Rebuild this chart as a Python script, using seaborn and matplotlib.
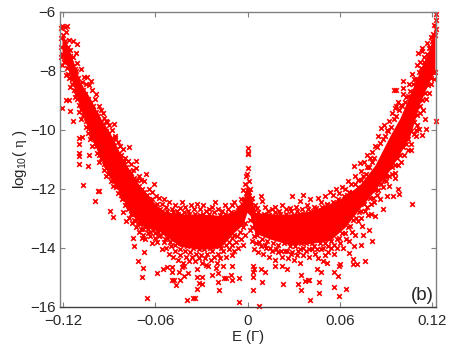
import matplotlib
matplotlib.use('Agg')
import matplotlib.pyplot as plt
import seaborn as sns

# Solid middle of the cloud, envelope
core_energy = [-0.1208, -0.1153, -0.1088, -0.1023, -0.0959, -0.0896, -0.0831, -0.0766, -0.0701, -0.0636, -0.0571,
               -0.0506, -0.044, -0.031, -0.018, -0.0083, -0.003, -0.0005, 0.0015, 0.0047, 0.0145, 0.0275, 0.0405,
               0.0535, 0.0633, 0.0731, 0.0828, 0.0926, 0.0991, 0.1056, 0.1121, 0.1186, 0.1218]
core_top = [-6.7, -7.4, -8.4, -8.95, -9.6, -10.1, -10.8, -11.4, -11.9, -12.3, -12.7,
            -12.8, -12.85, -12.85, -12.9, -12.75, -12.4, -11.8, -12.1, -12.8, -12.85, -12.85, -12.75,
            -12.5, -12.25, -11.85, -11.2, -10.2, -9.6, -8.8, -8.0, -7.2, -6.5]
core_bottom = [-7.4, -8.2, -9.3, -10.2, -10.95, -11.6, -12.15, -12.8, -13.2, -13.35, -13.45,
               -13.7, -13.95, -14.05, -14.0, -13.45, -13.2, -12.8, -12.9, -13.5, -13.7, -13.9, -13.85,
               -13.75, -13.3, -12.65, -12.05, -11.35, -10.8, -10.2, -9.1, -8.3, -8.0]

# Single crosses
outliers = [(-0.107, -11.87), (-0.0993, -12.4), (-0.0977, -12.06), (-0.097, -12.06), (-0.0896, -12.75),
            (-0.0879, -12.94), (-0.0813, -12.79), (-0.0791, -13.1), (-0.0749, -13.68), (-0.0738, -13.93),
            (-0.069, -13.68), (-0.0675, -14.14), (-0.0716, -14.44), (-0.0681, -14.67), (-0.0688, -15.0),
            (-0.0655, -15.7), (-0.0588, -14.85), (-0.0549, -14.73), (-0.0527, -14.65), (-0.0495, -14.64),
            (-0.0495, -14.81), (-0.0495, -15.08), (-0.0478, -15.08), (-0.0469, -15.24), (-0.0449, -14.81),
            (-0.0439, -15.1), (-0.0413, -14.94), (-0.0387, -14.85), (-0.0428, -14.65), (-0.0413, -14.6),
            (-0.0393, -15.76), (-0.0354, -15.71), (-0.0345, -15.71), (-0.0332, -15.38), (-0.0332, -15.0),
            (-0.03, -15.0), (-0.0317, -15.19), (-0.03, -15.23), (-0.0185, -15.43), (-0.0191, -15.14),
            (-0.0191, -14.85), (-0.023, -14.93), (-0.0154, -15.02), (-0.0206, -14.67), (-0.0271, -14.59),
            (-0.0332, -14.7), (-0.0057, -15.84), (0.0075, -15.95), (0.0034, -15.41), (0.0095, -15.14),
            (0.0228, -15.22), (0.0329, -15.21), (0.0347, -15.41), (0.0373, -15.13), (0.039, -15.07),
            (0.0399, -15.07), (0.0405, -15.77), (0.0466, -15.14), (0.0464, -15.54), (0.0592, -15.64),
            (0.0564, -15.31), (0.064, -15.38), (0.059, -14.94), (0.0561, -14.8), (0.0449, -14.73),
            (0.0475, -14.8), (0.0347, -14.93), (0.034, -14.51), (0.0254, -14.7), (0.0225, -14.6),
            (0.0178, -14.62), (0.0113, -14.81), (0.0085, -14.7), (0.0039, -14.73), (0.0034, -14.8),
            (0.0034, -15.0), (0.0033, -14.6), (-0.01, -14.23), (-0.01, -14.6), (-0.0141, -15.03),
            (-0.0104, -15.1), (-0.0055, -15.03), (-0.011, -14.93), (0.0492, -14.45), (0.0514, -14.51),
            (0.0594, -14.62), (0.06, -14.54), (0.0687, -14.36), (0.0687, -14.56), (0.0709, -14.56),
            (0.0763, -14.43), (0.0659, -14.17), (0.0694, -13.94), (0.0737, -13.89), (0.0809, -13.75),
            (0.0748, -13.55), (0.0791, -13.38), (0.0741, -13.27), (0.0828, -12.93), (0.08, -12.84),
            (0.0878, -12.67), (0.1067, -12.51), (0.0947, -12.25), (0.0986, -12.16), (0.0976, -12.0),
            (0.0904, -12.25), (0.0958, -11.63), (0.0692, -11.24), (0.0774, -10.87), (0.0731, -11.13),
            (0.1063, -10.7), (0.1132, -10.19), (0.1158, -9.98), (0.1223, -9.71), (0.1154, -9.63),
            (0.1093, -10.2), (0.1117, -9.98), (0.1098, -10.0), (0.0963, -8.64), (0.0955, -8.64),
            (0.1008, -8.34), (0.1008, -8.59), (0.0963, -9.21), (0.1132, -7.23), (0.111, -7.4),
            (0.1223, -6.1), (0.0, -10.62), (0.0, -10.79), (0.0003, -10.83), (0.0, -11.3), (-0.121, -9.26),
            (-0.1139, -9.72), (-0.1139, -7.0), (-0.1113, -7.1), (-0.1182, -9.0), (-0.1165, -9.0),
            (-0.1156, -9.38), (-0.1098, -10.28), (-0.1075, -10.24), (-0.1098, -10.5), (-0.1098, -10.78),
            (-0.1098, -10.9), (-0.1095, -11.16), (-0.103, -10.85), (-0.1037, -11.24), (-0.0939, -9.43),
            (-0.1043, -8.21), (-0.1021, -8.36), (-0.0772, -10.57), (-0.0727, -11.07), (-0.0863, -10.27),
            (-0.0917, -9.75)]

# Crosses that roughen the upper edge of the cloud
upper_edge = [(-0.1215, -6.55), (-0.1205, -6.5), (-0.119, -6.52), (-0.1178, -6.5), (-0.1212, -6.9), (-0.1215, -7.2),
              (-0.1185, -6.7), (-0.1165, -6.95), (-0.1158, -7.3), (-0.1135, -7.55), (-0.112, -7.4), (-0.1108, -7.75),
              (-0.1115, -8.0), (-0.1085, -7.95), (-0.1065, -8.2), (-0.1052, -8.45), (-0.1075, -8.4), (-0.1032, -8.5),
              (-0.101, -8.65), (-0.0995, -8.95), (-0.0985, -8.8), (-0.097, -9.2), (-0.0952, -9.35), (-0.0938, -9.6),
              (-0.092, -9.7), (-0.0902, -9.85), (-0.0885, -10.0), (-0.0872, -9.8), (-0.086, -10.2), (-0.0842, -10.4),
              (-0.0828, -10.55), (-0.081, -10.65), (-0.0795, -10.95), (-0.078, -11.05), (-0.0762, -11.15),
              (-0.0745, -11.35), (-0.0725, -11.3), (-0.071, -11.55), (-0.0692, -11.7), (-0.0675, -11.75),
              (-0.0662, -11.5), (-0.0645, -12.0), (-0.0625, -12.1), (-0.0612, -11.85), (-0.0598, -12.25),
              (-0.0575, -12.3), (-0.056, -12.5), (-0.0545, -12.35), (-0.053, -12.6), (-0.051, -12.45), (-0.0492, -12.7),
              (-0.0475, -12.55), (-0.046, -12.75), (-0.044, -12.65), (-0.0425, -12.45), (-0.041, -12.6),
              (-0.039, -12.75), (-0.037, -12.55), (-0.035, -12.7), (-0.033, -12.5), (-0.031, -12.7), (-0.029, -12.55),
              (-0.027, -12.75), (-0.025, -12.7), (-0.023, -12.6), (-0.021, -12.45), (-0.019, -12.7), (-0.017, -12.75),
              (-0.015, -12.55), (-0.0125, -12.7), (-0.0105, -12.55), (-0.009, -12.45), (-0.0065, -12.6),
              (-0.0045, -12.35), (-0.003, -12.05), (-0.0018, -11.85), (-0.001, -11.55), (-0.0004, -11.5), (0.0006, -11.75),
              (0.0015, -12.0), (0.0028, -12.3), (0.0045, -12.55), (0.006, -12.65), (0.0085, -12.25), (0.0095, -12.4),
              (0.0115, -12.6), (0.0135, -12.75), (0.0155, -12.7), (0.018, -12.6), (0.0205, -12.75), (0.0225, -12.55),
              (0.025, -12.7), (0.0275, -12.65), (0.029, -12.25), (0.0315, -12.6), (0.034, -12.4), (0.036, -12.2),
              (0.0385, -12.55), (0.0405, -12.35), (0.043, -12.6), (0.0455, -12.3), (0.0475, -12.45), (0.05, -12.25),
              (0.0515, -12.5), (0.0535, -12.1), (0.0555, -12.2), (0.0575, -12.0), (0.0595, -12.15), (0.0615, -11.95),
              (0.0635, -12.0), (0.0655, -11.75), (0.0675, -11.85), (0.0695, -11.55), (0.0715, -11.7), (0.0735, -11.4),
              (0.0755, -11.1), (0.0775, -11.25), (0.0795, -10.95), (0.081, -10.75), (0.083, -10.55), (0.085, -10.2),
              (0.087, -9.95), (0.0885, -9.85), (0.0905, -10.0), (0.092, -9.7), (0.094, -9.45), (0.096, -9.25),
              (0.098, -9.05), (0.0995, -9.15), (0.101, -8.8), (0.103, -8.9), (0.105, -8.45), (0.107, -8.1), (0.1085, -8.3),
              (0.11, -7.8), (0.112, -7.7), (0.1135, -7.35), (0.115, -7.55), (0.1165, -7.05), (0.118, -7.25), (0.119, -6.85),
              (0.1205, -6.75), (0.1215, -6.45), (0.1222, -6.6), (0.1222, -6.3)]

# Second row just inside the upper edge
upper_inner = [(-0.1202, -6.8), (-0.1188, -7.0), (-0.1172, -7.2), (-0.1155, -7.5), (-0.1138, -7.85), (-0.1122, -7.95),
               (-0.1105, -8.25), (-0.109, -8.45), (-0.1072, -8.65), (-0.1056, -8.8), (-0.104, -8.95), (-0.1024, -9.1),
               (-0.1006, -9.2), (-0.099, -9.4), (-0.0974, -9.55), (-0.0957, -9.75), (-0.094, -9.85), (-0.0924, -10.05),
               (-0.0907, -10.15), (-0.089, -10.3), (-0.0874, -10.4), (-0.0857, -10.65), (-0.084, -10.8), (-0.0824, -10.85),
               (-0.0806, -11.05), (-0.079, -11.25), (-0.0773, -11.4), (-0.0756, -11.45), (-0.074, -11.65), (-0.0723, -11.7),
               (-0.0706, -11.9), (-0.069, -12.0), (-0.0673, -12.1), (-0.0656, -12.2), (-0.064, -12.35), (-0.0623, -12.35),
               (-0.0606, -12.55), (-0.059, -12.5), (-0.0573, -12.7), (-0.0556, -12.75), (-0.054, -12.85), (-0.0523, -12.75),
               (-0.0506, -12.9), (-0.0488, -12.8), (-0.047, -12.95), (-0.0452, -12.85), (-0.0434, -12.9), (-0.0416, -12.8),
               (-0.0398, -12.95), (-0.038, -12.85), (-0.0362, -12.95), (-0.0344, -12.85), (-0.0326, -12.95), (-0.0308, -12.9),
               (-0.029, -12.85), (-0.0272, -13.0), (-0.0254, -12.85), (-0.0236, -12.95), (-0.0218, -12.8), (-0.02, -13.0),
               (-0.0182, -12.9), (-0.0164, -12.95), (-0.0146, -12.85), (-0.0128, -12.95), (-0.011, -12.8), (-0.0092, -12.85),
               (-0.0074, -12.8), (-0.0056, -12.65), (-0.0038, -12.5), (-0.0024, -12.35), (-0.0014, -12.15), (0.001, -12.1),
               (0.0022, -12.45), (0.0036, -12.7), (0.0052, -12.85), (0.0068, -12.8), (0.0086, -12.95), (0.0104, -12.85),
               (0.0122, -12.95), (0.014, -12.9), (0.0158, -12.95), (0.0176, -12.8), (0.0194, -12.95), (0.0212, -12.85),
               (0.023, -12.95), (0.0248, -12.85), (0.0266, -12.95), (0.0284, -12.75), (0.0302, -12.9), (0.032, -12.75),
               (0.0338, -12.85), (0.0356, -12.7), (0.0374, -12.85), (0.0392, -12.7), (0.041, -12.8), (0.0428, -12.75),
               (0.0446, -12.65), (0.0464, -12.75), (0.0482, -12.6), (0.05, -12.7), (0.0518, -12.55), (0.0536, -12.6),
               (0.0554, -12.45), (0.0572, -12.5), (0.059, -12.35), (0.0608, -12.4), (0.0626, -12.25), (0.0644, -12.2),
               (0.0662, -12.1), (0.068, -12.1), (0.0698, -11.85), (0.0716, -11.95), (0.0734, -11.7), (0.0752, -11.55),
               (0.077, -11.5), (0.0788, -11.25), (0.0806, -11.1), (0.0824, -10.95), (0.0842, -10.6), (0.086, -10.45),
               (0.0878, -10.3), (0.0896, -10.2), (0.0914, -10.05), (0.0932, -9.9), (0.095, -9.65), (0.0968, -9.55),
               (0.0986, -9.35), (0.1004, -9.2), (0.1022, -9.05), (0.104, -8.85), (0.1058, -8.7), (0.1076, -8.45),
               (0.1094, -8.3), (0.1112, -8.05), (0.113, -7.9), (0.1148, -7.7), (0.1166, -7.45), (0.1184, -7.2),
               (0.1202, -7.0), (0.122, -6.8)]

# Crosses that roughen the lower edge of the cloud
lower_edge = [(-0.1215, -7.55), (-0.1208, -7.8), (-0.1195, -7.7), (-0.1185, -8.15), (-0.1168, -8.1), (-0.1155, -8.55),
              (-0.114, -8.45), (-0.1125, -8.9), (-0.111, -8.95), (-0.1095, -9.4), (-0.1085, -9.65), (-0.107, -9.5),
              (-0.1055, -9.9), (-0.104, -10.1), (-0.1025, -10.3), (-0.101, -10.55), (-0.0995, -10.45), (-0.098, -10.8),
              (-0.0965, -11.1), (-0.095, -11.0), (-0.0935, -11.35), (-0.092, -11.55), (-0.0905, -11.35), (-0.089, -11.75),
              (-0.0875, -11.9), (-0.086, -11.7), (-0.0845, -12.15), (-0.083, -12.05), (-0.0815, -12.35), (-0.08, -12.55),
              (-0.0785, -12.45), (-0.077, -13.0), (-0.0755, -13.15), (-0.074, -13.05), (-0.0725, -13.3), (-0.071, -13.45),
              (-0.0695, -13.35), (-0.068, -13.55), (-0.0665, -13.7), (-0.065, -13.5), (-0.0635, -13.6), (-0.062, -13.85),
              (-0.0605, -13.65), (-0.059, -13.8), (-0.0575, -13.6), (-0.056, -14.05), (-0.0545, -13.8), (-0.053, -14.0),
              (-0.0515, -14.2), (-0.05, -13.95), (-0.0485, -14.3), (-0.047, -14.1), (-0.0455, -14.4), (-0.044, -14.25),
              (-0.042, -14.5), (-0.04, -14.3), (-0.038, -14.45), (-0.036, -14.3), (-0.034, -14.45), (-0.032, -14.35),
              (-0.03, -14.5), (-0.028, -14.35), (-0.026, -14.6), (-0.024, -14.4), (-0.022, -14.3), (-0.02, -14.5),
              (-0.018, -14.35), (-0.016, -14.6), (-0.014, -14.3), (-0.012, -14.05), (-0.0105, -13.9), (-0.009, -14.1),
              (-0.0075, -13.8), (-0.006, -14.0), (-0.0045, -13.7), (-0.003, -13.9), (-0.002, -13.55), (0.0018, -13.4),
              (0.003, -13.75), (0.004, -14.05), (0.0055, -13.85), (0.007, -14.15), (0.0085, -13.95), (0.01, -14.2),
              (0.012, -14.0), (0.014, -14.3), (0.016, -14.1), (0.018, -14.4), (0.02, -14.15), (0.022, -14.3),
              (0.024, -14.1), (0.026, -14.35), (0.028, -14.2), (0.03, -14.4), (0.032, -14.25), (0.034, -14.05),
              (0.036, -14.25), (0.038, -14.1), (0.04, -14.3), (0.042, -14.05), (0.044, -14.2), (0.046, -14.35),
              (0.048, -14.05), (0.05, -14.25), (0.052, -14.15), (0.054, -14.0), (0.056, -14.2), (0.058, -14.0),
              (0.06, -13.85), (0.062, -14.0), (0.064, -13.7), (0.066, -13.75), (0.068, -13.45), (0.07, -13.55),
              (0.072, -13.1), (0.074, -13.0), (0.076, -12.75), (0.078, -12.9), (0.08, -12.5), (0.082, -12.45),
              (0.084, -12.2), (0.086, -12.35), (0.088, -11.95), (0.09, -11.75), (0.092, -11.9), (0.094, -11.5),
              (0.096, -11.45), (0.098, -11.2), (0.1, -11.1), (0.102, -10.85), (0.104, -10.7), (0.106, -10.5),
              (0.108, -10.15), (0.11, -9.85), (0.112, -9.45), (0.114, -9.35), (0.116, -8.95), (0.118, -8.75),
              (0.1195, -8.45), (0.121, -8.3), (0.122, -8.05)]

# Second row just inside the lower edge
lower_inner = [(-0.1205, -7.45), (-0.119, -7.6), (-0.1175, -7.9), (-0.116, -8.25), (-0.1145, -8.3), (-0.113, -8.65),
               (-0.1115, -8.8), (-0.11, -9.15), (-0.1082, -9.3), (-0.1066, -9.45), (-0.105, -9.7), (-0.1034, -9.95),
               (-0.1018, -10.25), (-0.1002, -10.25), (-0.0986, -10.55), (-0.097, -10.85), (-0.0954, -10.95), (-0.0938, -11.15),
               (-0.0922, -11.3), (-0.0906, -11.5), (-0.089, -11.55), (-0.0874, -11.7), (-0.0858, -11.95), (-0.0842, -11.9),
               (-0.0826, -12.2), (-0.081, -12.2), (-0.0794, -12.45), (-0.0778, -12.7), (-0.0762, -12.85), (-0.0746, -12.85),
               (-0.073, -13.1), (-0.0714, -13.15), (-0.0698, -13.2), (-0.0682, -13.35), (-0.0666, -13.3), (-0.065, -13.35),
               (-0.0634, -13.45), (-0.0618, -13.4), (-0.0602, -13.5), (-0.0586, -13.45), (-0.057, -13.55), (-0.0554, -13.5),
               (-0.0538, -13.7), (-0.0522, -13.65), (-0.0506, -13.8), (-0.049, -13.7), (-0.0474, -13.9), (-0.0458, -13.85),
               (-0.0442, -14.05), (-0.0426, -13.85), (-0.041, -14.1), (-0.0392, -13.95), (-0.0374, -14.15), (-0.0356, -14.0),
               (-0.0338, -14.2), (-0.032, -14.05), (-0.0302, -14.25), (-0.0284, -14.05), (-0.0266, -14.2), (-0.0248, -14.0),
               (-0.023, -14.1), (-0.0212, -13.95), (-0.0194, -14.2), (-0.0176, -14.0), (-0.0158, -14.1), (-0.014, -13.9),
               (-0.0122, -13.8), (-0.0104, -13.65), (-0.0086, -13.55), (-0.0068, -13.6), (-0.005, -13.45), (-0.0032, -13.3),
               (-0.0018, -13.15), (0.0012, -13.05), (0.0026, -13.3), (0.0042, -13.6), (0.0058, -13.55), (0.0074, -13.8),
               (0.0092, -13.7), (0.011, -13.9), (0.0128, -13.75), (0.0146, -14.0), (0.0164, -13.85), (0.0182, -14.05),
               (0.02, -13.9), (0.0218, -14.1), (0.0236, -13.85), (0.0254, -14.1), (0.0272, -13.95), (0.029, -14.15),
               (0.0308, -13.95), (0.0326, -14.1), (0.0344, -13.85), (0.0362, -14.0), (0.038, -13.85), (0.0398, -14.05),
               (0.0416, -13.85), (0.0434, -13.95), (0.0452, -14.05), (0.047, -13.85), (0.0488, -14.0), (0.0506, -13.85),
               (0.0524, -13.95), (0.0542, -13.75), (0.056, -13.9), (0.0578, -13.7), (0.0596, -13.65), (0.0614, -13.5),
               (0.0632, -13.5), (0.065, -13.3), (0.0668, -13.25), (0.0686, -13.05), (0.0704, -13.0), (0.0722, -12.8),
               (0.074, -12.75), (0.0758, -12.5), (0.0776, -12.6), (0.0794, -12.3), (0.0812, -12.3), (0.083, -12.05),
               (0.0848, -12.05), (0.0866, -11.85), (0.0884, -11.7), (0.0902, -11.55), (0.092, -11.55), (0.0938, -11.25),
               (0.0956, -11.2), (0.0974, -10.95), (0.0992, -10.85), (0.101, -10.6), (0.1028, -10.5), (0.1046, -10.3),
               (0.1064, -10.05), (0.1082, -9.75), (0.11, -9.5), (0.1118, -9.2), (0.1136, -9.0), (0.1154, -8.75),
               (0.1172, -8.5), (0.119, -8.25), (0.1208, -8.05)]

x_ticks = [-0.12, -0.06, 0, 0.06, 0.12]
x_tick_labels = ['\u22120.12', '\u22120.06', '0', '0.06', '0.12']
y_ticks = [-16, -14, -12, -10, -8, -6]

sns.set_style('white')
plt.rcParams['font.family'] = ['Liberation Sans', 'DejaVu Sans']
plt.rcParams['mathtext.fontset'] = 'custom'
plt.rcParams['mathtext.rm'] = 'Liberation Sans'
plt.rcParams['mathtext.it'] = 'Liberation Serif'
plt.rcParams['mathtext.default'] = 'regular'

fig, ax = plt.subplots(figsize=(4.5, 3.46), dpi=100)
fig.subplots_adjust(left=60 / 450, right=436 / 450, top=1 - 11.5 / 346, bottom=1 - 307 / 346)

ax.fill_between(core_energy, core_bottom, core_top, color='#ff0000', linewidth=0)

points = outliers + upper_edge + upper_inner + lower_edge + lower_inner
sns.scatterplot(x=[p[0] for p in points], y=[p[1] for p in points], marker='x', color='#ff0000',
                s=11, linewidth=1.2, clip_on=False, ax=ax)

ax.set_xlim(-0.1221, 0.1225)
ax.set_ylim(-16, -6)
ax.set_xticks(x_ticks)
ax.set_xticklabels(x_tick_labels)
ax.set_yticks(y_ticks)
ax.tick_params(direction='in', length=3.5, width=0.8, color='#808080', labelsize=10.8, top=True, right=True,
               bottom=True, left=True)
ax.tick_params(axis='x', pad=5)
ax.tick_params(axis='y', pad=3)
for spine in ax.spines.values():
    spine.set_color('#808080')
    spine.set_linewidth(1.0)
ax.spines['bottom'].set_color('#404040')

ax.set_xlabel('E ($\\mathit{\\Gamma}$)', fontsize=10.8, labelpad=0)
ax.set_ylabel('log$_{10}$( $\\mathit{\\eta}$ )', fontsize=10.8, labelpad=1)
ax.text(0.1134, -15.6, '(b)', fontsize=13.5, ha='center', va='center')

fig.savefig('out.png', dpi=100)
